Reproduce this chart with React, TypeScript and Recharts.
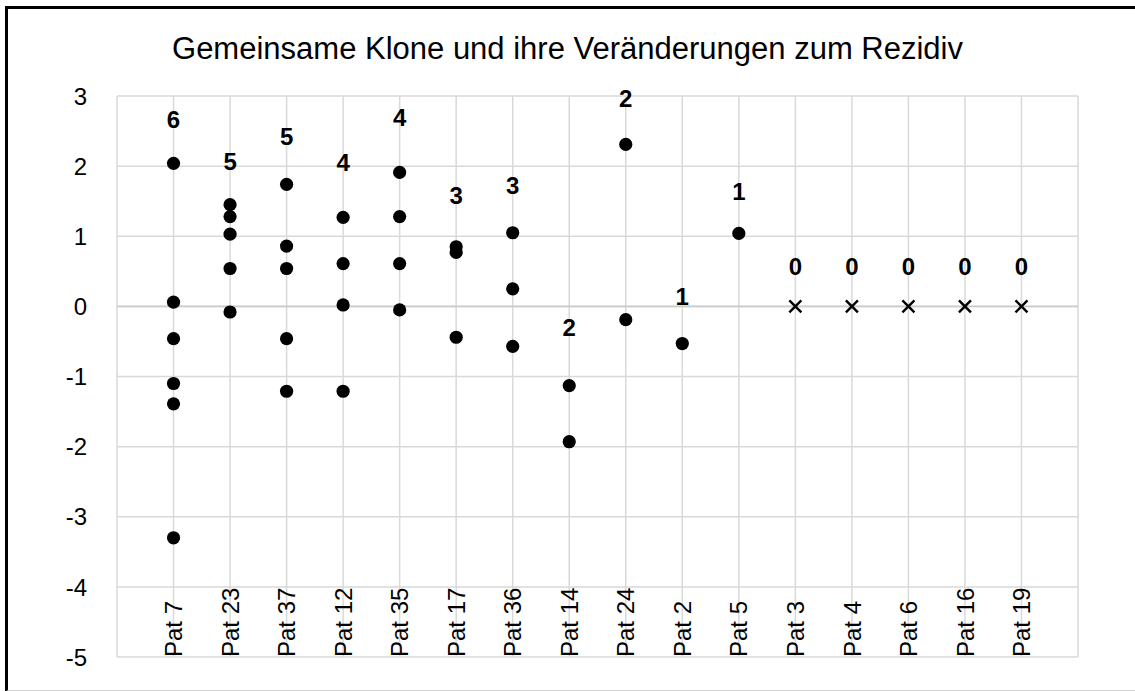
import React from "react";
import { ScatterChart, Scatter, XAxis, YAxis, CartesianGrid, ReferenceLine } from "recharts";

const patients = [
  "Pat 7", "Pat 23", "Pat 37", "Pat 12", "Pat 35", "Pat 17", "Pat 36", "Pat 14",
  "Pat 24", "Pat 2", "Pat 5", "Pat 3", "Pat 4", "Pat 6", "Pat 16", "Pat 19",
];

// changes per shared clone (one list per patient)
const clones = [
  [2.04, 0.06, -0.46, -1.1, -1.39, -3.3],
  [1.45, 1.28, 1.03, 0.54, -0.08],
  [1.74, 0.86, 0.54, -0.46, -1.21],
  [1.27, 0.61, 0.02, -1.21],
  [1.91, 1.28, 0.61, -0.05],
  [0.85, 0.77, -0.44],
  [1.05, 0.25, -0.57],
  [-1.13, -1.93],
  [2.31, -0.19],
  [-0.53],
  [1.04],
  [0],
  [0],
  [0],
  [0],
  [0],
];

const counts = [6, 5, 5, 4, 4, 3, 3, 2, 2, 1, 1, 0, 0, 0, 0, 0];

// where the count labels sit (in chart units)
const labelPos = [2.67, 2.07, 2.43, 2.05, 2.69, 1.59, 1.72, -0.3, 2.97, 0.14, 1.64, 0.57, 0.57, 0.57, 0.57, 0.57];

const yTicks = [-5, -4, -3, -2, -1, 0, 1, 2, 3];
const xTicks = Array.from({ length: patients.length + 2 }, (_, i) => i);

const dots = clones.flatMap((vals, i) => (counts[i] > 0 ? vals.map((v) => ({ x: i + 1, y: v })) : []));
const crosses = clones.flatMap((vals, i) => (counts[i] === 0 ? vals.map((v) => ({ x: i + 1, y: v })) : []));
const labels = counts.map((c, i) => ({ x: i + 1, y: labelPos[i], count: c }));

const FONT = "'Liberation Sans', Arial, Helvetica, sans-serif";

const Dot = (p: any) => <circle cx={p.cx} cy={p.cy} r={6.6} fill="#000" />;

const Cross = (p: any) => (
  <g stroke="#000" strokeWidth={2.4}>
    <line x1={p.cx - 6} y1={p.cy - 6} x2={p.cx + 6} y2={p.cy + 6} />
    <line x1={p.cx - 6} y1={p.cy + 6} x2={p.cx + 6} y2={p.cy - 6} />
  </g>
);

const CountLabel = (p: any) => (
  <text x={p.cx} y={p.cy} dy="0.36em" textAnchor="middle" fontSize={24} fontWeight="bold" fontFamily={FONT} fill="#000">
    {p.payload.count}
  </text>
);

const YTick = ({ x, y, payload }: any) => (
  <text x={x - 22} y={y} dy="0.36em" textAnchor="end" fontSize={24} fontFamily={FONT} fill="#000">
    {payload.value}
  </text>
);

const XTick = ({ x, y, payload }: any) => {
  const name = patients[payload.value - 1];
  if (!name) return null;
  return (
    <text
      x={x}
      y={y}
      transform={`rotate(-90, ${x}, ${y})`}
      dx={8}
      dy="0.36em"
      textAnchor="start"
      fontSize={24}
      fontFamily={FONT}
      fill="#000"
    >
      {name}
    </text>
  );
};

export default function App() {
  return (
    <div style={{ position: "fixed", left: 0, top: 0, width: 1135, height: 691, background: "#fff", overflow: "hidden", fontFamily: FONT }}>
      <div
        style={{
          position: "absolute",
          left: 5,
          top: 6,
          width: 1200,
          height: 681,
          borderTop: "3px solid #000",
          borderLeft: "3px solid #000",
          borderBottom: "2px solid #d4d4d4",
        }}
      />
      <div style={{ position: "absolute", left: 0, top: 31, width: 1135, textAlign: "center", fontSize: 31, lineHeight: "36px", color: "#000" }}>
        Gemeinsame Klone und ihre Veränderungen zum Rezidiv
      </div>
      <div style={{ position: "absolute", left: 0, top: 0 }}>
        <ScatterChart width={1135} height={691} margin={{ top: 96, right: 57, bottom: 33, left: 57 }}>
          <CartesianGrid stroke="#d9d9d9" strokeWidth={1.5} horizontalValues={yTicks} verticalValues={xTicks} />
          <XAxis
            type="number"
            dataKey="x"
            domain={[0, 17]}
            ticks={xTicks}
            interval={0}
            axisLine={false}
            tickLine={false}
            height={1}
            tick={<XTick />}
          />
          <YAxis
            type="number"
            dataKey="y"
            domain={[-5, 3]}
            ticks={yTicks}
            interval={0}
            axisLine={false}
            tickLine={false}
            width={60}
            tick={<YTick />}
          />
          <ReferenceLine y={0} stroke="#cccccc" strokeWidth={1.8} />
          <Scatter data={dots} shape={<Dot />} isAnimationActive={false} />
          <Scatter data={crosses} shape={<Cross />} isAnimationActive={false} />
          <Scatter data={labels} shape={<CountLabel />} isAnimationActive={false} />
        </ScatterChart>
      </div>
    </div>
  );
}
